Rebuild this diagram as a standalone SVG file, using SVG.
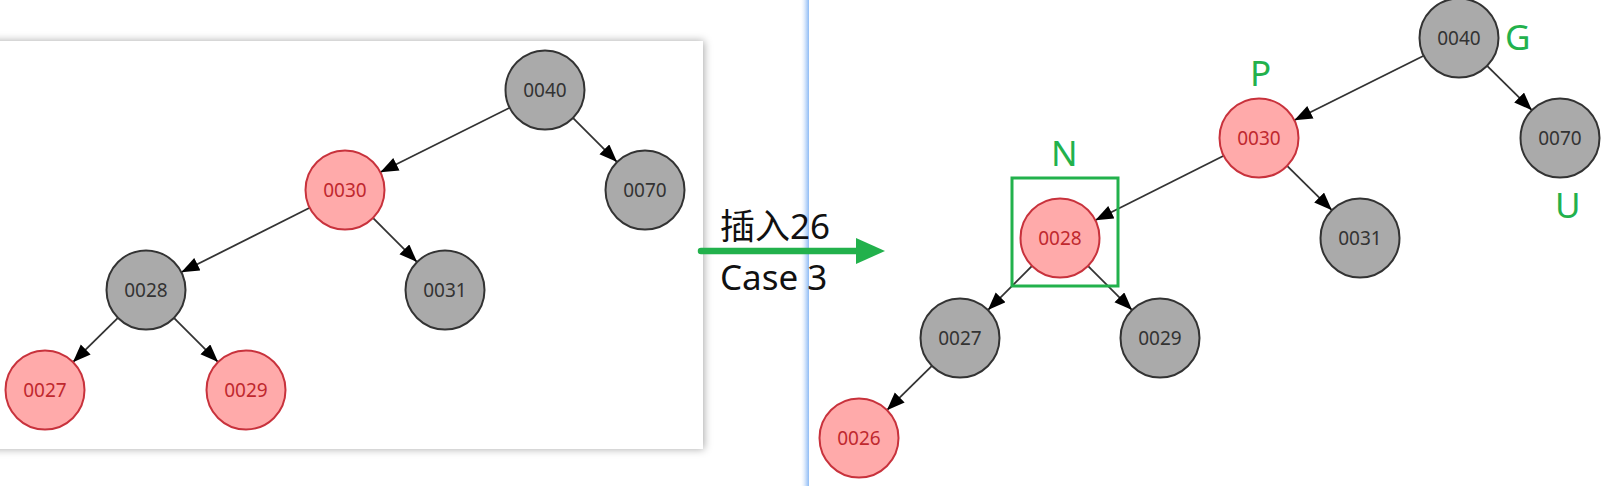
<svg xmlns="http://www.w3.org/2000/svg" width="1610" height="486" viewBox="0 0 1610 486">
<style>
.gray circle{fill:#aaaaaa;stroke:#333333;stroke-width:2}
.gray text{fill:#333333}
.red circle{fill:#ffaaaa;stroke:#c8323c;stroke-width:2}
.red text{fill:#c0282e}
.node text{font-family:"Noto Sans","Liberation Sans",sans-serif;font-size:19px;text-anchor:middle;dominant-baseline:central}
.edge{stroke:#333333;stroke-width:1.8;fill:none;marker-end:url(#ah)}
.lbl{font-family:"Noto Sans","Liberation Sans",sans-serif;font-size:35px;fill:#22b14c}
.mid{font-family:"Noto Sans","Noto Sans CJK SC",sans-serif;font-size:35px;fill:#111111}
</style>
<defs>
<marker id="ah" markerUnits="userSpaceOnUse" markerWidth="19" markerHeight="15" refX="18" refY="7" orient="auto">
<path d="M0,0 L18,7 L0,14 z" fill="#000"/>
</marker>
<filter id="sh" x="-5%" y="-5%" width="110%" height="110%">
<feDropShadow dx="1" dy="0" stdDeviation="4" flood-color="#000" flood-opacity="0.35"/>
</filter>
<linearGradient id="bl" x1="0" y1="0" x2="1" y2="0">
<stop offset="0" stop-color="#ffffff" stop-opacity="0"/>
<stop offset="0.6" stop-color="#cfe2fb"/>
<stop offset="1" stop-color="#8fbcf5"/>
</linearGradient>
</defs>
<rect width="1610" height="486" fill="#ffffff"/>
<rect x="-10" y="41" width="713" height="408" fill="#ffffff" filter="url(#sh)"/>
<rect x="800" y="0" width="9" height="486" fill="url(#bl)"/>

<g id="connectors">
<line class="edge" x1="509.7" y1="107.7" x2="380.3" y2="172.3"/>
<line class="edge" x1="572.9" y1="117.9" x2="617.1" y2="162.1"/>
<line class="edge" x1="309.7" y1="207.7" x2="181.3" y2="272.3"/>
<line class="edge" x1="372.9" y1="217.9" x2="417.1" y2="262.1"/>
<line class="edge" x1="117.9" y1="317.8" x2="72.9" y2="362.2"/>
<line class="edge" x1="173.9" y1="317.9" x2="218.1" y2="362.1"/>
<line class="edge" x1="1423.7" y1="55.7" x2="1294.3" y2="120.3"/>
<line class="edge" x1="1487.1" y1="65.8" x2="1531.9" y2="110.2"/>
<line class="edge" x1="1223.7" y1="155.7" x2="1095.3" y2="220.3"/>
<line class="edge" x1="1287.1" y1="165.8" x2="1331.9" y2="210.2"/>
<line class="edge" x1="1032.1" y1="265.9" x2="987.9" y2="310.1"/>
<line class="edge" x1="1087.9" y1="265.9" x2="1132.1" y2="310.1"/>
<line class="edge" x1="931.9" y1="365.8" x2="886.9" y2="410.2"/>
</g>

<g id="L0040" class="node gray"><circle cx="545" cy="90" r="39.5"/><text x="545" y="90">0040</text></g>
<g id="L0030" class="node red"><circle cx="345" cy="190" r="39.5"/><text x="345" y="190">0030</text></g>
<g id="L0070" class="node gray"><circle cx="645" cy="190" r="39.5"/><text x="645" y="190">0070</text></g>
<g id="L0028" class="node gray"><circle cx="146" cy="290" r="39.5"/><text x="146" y="290">0028</text></g>
<g id="L0031" class="node gray"><circle cx="445" cy="290" r="39.5"/><text x="445" y="290">0031</text></g>
<g id="L0027" class="node red"><circle cx="45" cy="390" r="39.5"/><text x="45" y="390">0027</text></g>
<g id="L0029" class="node red"><circle cx="246" cy="390" r="39.5"/><text x="246" y="390">0029</text></g>

<g id="R0040" class="node gray"><circle cx="1459" cy="38" r="39.5"/><text x="1459" y="38">0040</text></g>
<g id="R0030" class="node red"><circle cx="1259" cy="138" r="39.5"/><text x="1259" y="138">0030</text></g>
<g id="R0070" class="node gray"><circle cx="1560" cy="138" r="39.5"/><text x="1560" y="138">0070</text></g>
<g id="R0028" class="node red"><circle cx="1060" cy="238" r="39.5"/><text x="1060" y="238">0028</text></g>
<g id="R0031" class="node gray"><circle cx="1360" cy="238" r="39.5"/><text x="1360" y="238">0031</text></g>
<g id="R0027" class="node gray"><circle cx="960" cy="338" r="39.5"/><text x="960" y="338">0027</text></g>
<g id="R0029" class="node gray"><circle cx="1160" cy="338" r="39.5"/><text x="1160" y="338">0029</text></g>
<g id="R0026" class="node red"><circle cx="859" cy="438" r="39.5"/><text x="859" y="438">0026</text></g>

<g id="highlight">
<rect x="1012" y="178" width="106" height="108" fill="none" stroke="#22b14c" stroke-width="3"/>
</g>
<g id="labels">
<text class="lbl" x="1505" y="50">G</text>
<text class="lbl" x="1250" y="86">P</text>
<text class="lbl" x="1051" y="166">N</text>
<text class="lbl" x="1555" y="218">U</text>
</g>

<g id="transition">
<line x1="701" y1="251" x2="860" y2="251" stroke="#22b14c" stroke-width="6.5" stroke-linecap="round"/>
<polygon points="856,238 885,251 856,264" fill="#22b14c"/>
<text class="mid" x="720" y="239">插入26</text>
<text class="mid" x="720" y="290">Case 3</text>
</g>
</svg>
